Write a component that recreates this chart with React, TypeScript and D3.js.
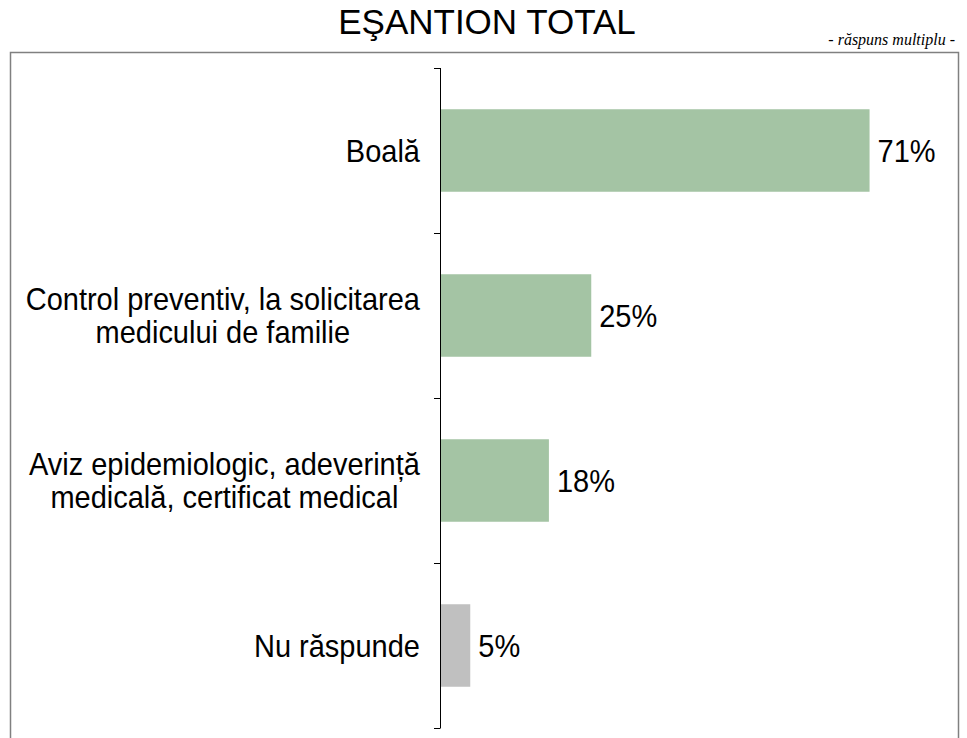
import React from "react";
import * as d3 from "d3";

const categories: string[][] = [
  ["Boală"],
  ["Control preventiv, la solicitarea", "medicului de familie"],
  ["Aviz epidemiologic, adeverință", "medicală, certificat medical"],
  ["Nu răspunde"],
];
const values: number[] = [71, 25, 18, 5];
const barColors: string[] = ["#A4C4A4", "#A4C4A4", "#A4C4A4", "#C0C0C0"];
const title = "EŞANTION TOTAL";
const subtitle = "- răspuns multiplu -";

const FONT = "Arial, 'Liberation Sans', sans-serif";
const LABEL_SIZE = 29;
const STRETCH = 1.1;

function measure(text: string): number {
  if (typeof document === "undefined") return text.length * LABEL_SIZE * 0.5;
  const c = document.createElement("canvas");
  const ctx = c.getContext("2d");
  if (!ctx) return text.length * LABEL_SIZE * 0.5;
  ctx.font = `${LABEL_SIZE}px 'Liberation Sans', Arial, sans-serif`;
  return ctx.measureText(text).width;
}

export default function App() {
  const W = 967;
  const H = 738;
  const x0 = 440;
  const labelRight = 420;
  const y = d3
    .scaleBand<number>()
    .domain(values.map((_, i) => i))
    .range([68, 728])
    .paddingInner(0.5)
    .paddingOuter(0.25);
  const x = d3.scaleLinear().domain([0, 85]).range([x0, x0 + 85 * 6.05]);
  const ticks = d3.range(values.length + 1).map((i) => 68 + i * y.step());
  return (
    <svg
      width={W}
      height={H}
      style={{ position: "absolute", left: 0, top: 0 }}
      fontFamily={FONT}
    >
      <rect x={0} y={0} width={W} height={H} fill="#fff" />
      <text x={487} y={34} textAnchor="middle" fontSize={35} fill="#000">
        {title}
      </text>
      <text
        x={955}
        y={45}
        textAnchor="end"
        fontSize={16}
        fontStyle="italic"
        fontFamily="'Liberation Serif', 'Times New Roman', serif"
        fill="#000"
      >
        {subtitle}
      </text>
      <rect x={10.5} y={52.5} width={948} height={720} fill="none" stroke="#808080" strokeWidth={1.5} />
      {values.map((v, i) => {
        const by = y(i)!;
        const bh = y.bandwidth();
        const cy = by + bh / 2;
        const lines = categories[i];
        const lh = 33;
        const maxW = d3.max(lines, (l) => measure(l)) ?? 0;
        const cx = labelRight - maxW / 2;
        return (
          <g key={i}>
            <rect x={x(0)} y={by} width={x(v) - x(0)} height={bh} fill={barColors[i]} />
            <text
              transform={`translate(${x(v) + 8},${cy}) scale(1,${STRETCH})`}
              dy="0.36em"
              fontSize={LABEL_SIZE}
              fill="#000"
            >
              {v}%
            </text>
            {lines.map((ln, j) => (
              <text
                key={j}
                transform={`translate(${cx},${cy + (j - (lines.length - 1) / 2) * lh}) scale(1,${STRETCH})`}
                dy="0.36em"
                textAnchor="middle"
                fontSize={LABEL_SIZE}
                fill="#000"
              >
                {ln}
              </text>
            ))}
          </g>
        );
      })}
      <line x1={x0 + 0.5} x2={x0 + 0.5} y1={68} y2={728} stroke="#000" strokeWidth={1} />
      {ticks.map((t, i) => (
        <line key={i} x1={x0 - 6} x2={x0 + 0.5} y1={t + 0.5} y2={t + 0.5} stroke="#000" strokeWidth={1} />
      ))}
    </svg>
  );
}
